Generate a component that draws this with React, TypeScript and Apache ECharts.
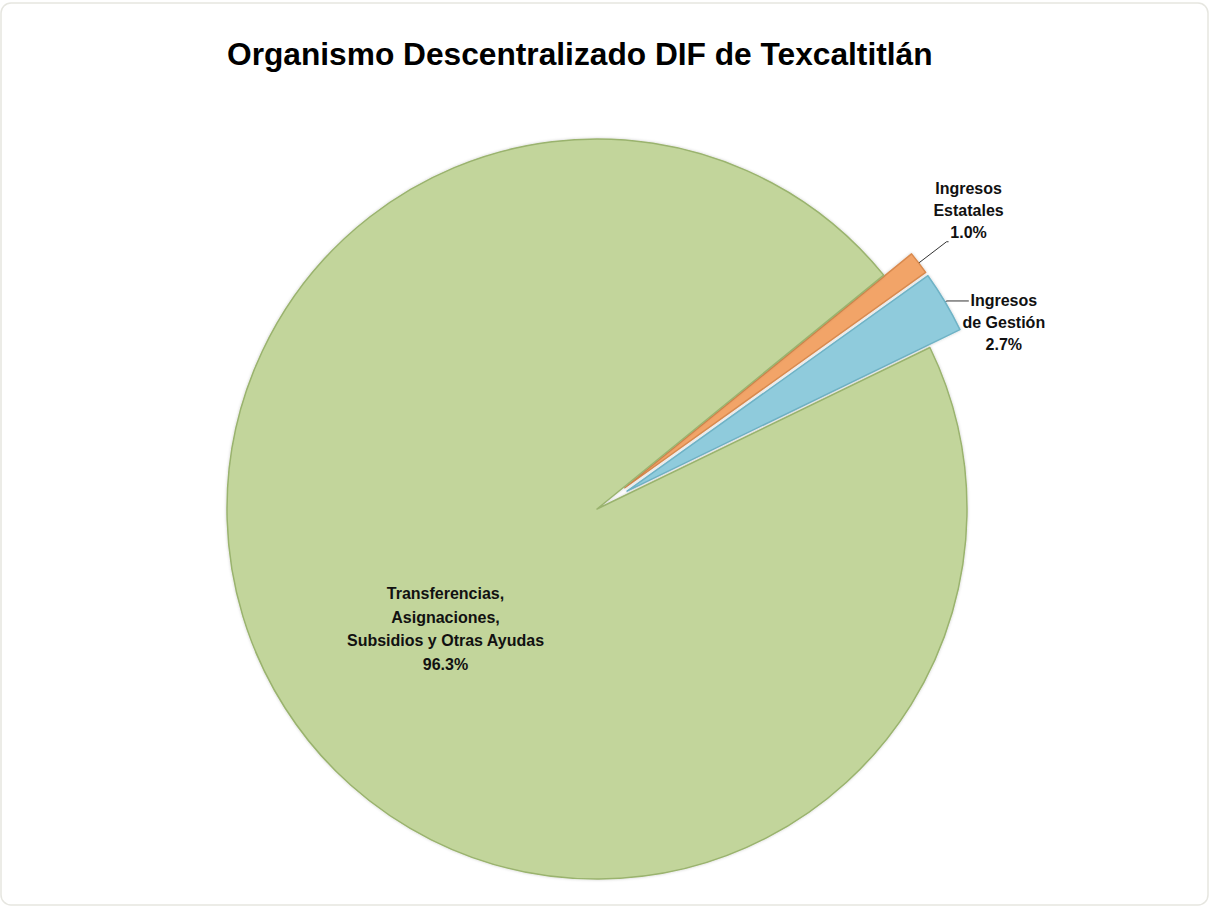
import React, { useEffect, useRef } from "react";
import * as echarts from "echarts";

const titleText = "Organismo Descentralizado DIF de Texcaltitlán";
const categories = [
  ["Ingresos", "Estatales"],
  ["Ingresos", "de Gestión"],
  ["Transferencias,", "Asignaciones,", "Subsidios y Otras Ayudas"],
];
const values = [1.0, 2.7, 96.3];
const colors = ["#F2A468", "#8FCBDC", "#C2D59B"];
const borderColors = ["#D98A4E", "#6FB3C6", "#9AB36E"];

export default function App() {
  const ref = useRef<HTMLDivElement>(null);
  useEffect(() => {
    if (!ref.current) return;
    const chart = echarts.init(ref.current, null, { renderer: "svg" });
    const fmt = (p: any) => {
      const lines = [...categories[p.dataIndex], (p.value as number).toFixed(1) + "%"];
      return lines.map((l) => "{a|" + l + "}").join("\n");
    };
    const font = "Liberation Sans, Arial, sans-serif";
    const labelCfgs: any[] = [
      {
        position: "outside",
        distanceToLabelLine: -11,
        padding: [0, 0, 62, 0],
        rich: { a: { width: 62, align: "center", fontSize: 16, fontWeight: "bold", lineHeight: 22, color: "#111", fontFamily: font } },
      },
      {
        position: "outside",
        distanceToLabelLine: -4,
        padding: [44, 0, 0, 0],
        rich: { a: { width: 78, align: "center", fontSize: 16, fontWeight: "bold", lineHeight: 22, color: "#111", fontFamily: font } },
      },
      {
        position: "inside",
        padding: [38, 0, 0, 14],
        rich: { a: { align: "center", fontSize: 16, fontWeight: "bold", lineHeight: 23.5, color: "#111", fontFamily: font } },
      },
    ];
    const labelLineCfgs: any[] = [
      { show: true, length: 35, length2: 2, lineStyle: { color: "#333", width: 1 } },
      { show: true, length: 2, length2: 22, lineStyle: { color: "#333", width: 1 } },
      { show: false },
    ];
    const data = values.map((v, i) => {
      const itemStyle = { color: colors[i], borderColor: borderColors[i], borderWidth: 1.5 };
      return {
        name: categories[i].join(" "),
        value: v,
        selected: i < 2,
        itemStyle,
        select: { itemStyle },
        label: labelCfgs[i],
        labelLine: labelLineCfgs[i],
      };
    });
    chart.setOption({
      animation: false,
      backgroundColor: "#ffffff",
      title: {
        text: titleText,
        left: 222,
        top: 33,
        textStyle: { fontSize: 31.7, fontWeight: "bold", color: "#000", fontFamily: font },
      },
      graphic: [
        {
          type: "rect",
          shape: { x: 1, y: 3, width: 1207, height: 902, r: 10 },
          style: { fill: "none", stroke: "#e6e6e0", lineWidth: 1.5 },
          silent: true,
        },
      ],
      series: [
        {
          type: "pie",
          center: [597, 509],
          radius: 370,
          startAngle: 39.2,
          clockwise: true,
          selectedMode: "multiple",
          selectedOffset: 35,
          avoidLabelOverlap: false,
          label: { formatter: fmt },
          emphasis: { disabled: true },
          itemStyle: { shadowBlur: 3, shadowColor: "rgba(0,0,0,0.2)" },
          data,
        },
      ],
    });
    return () => chart.dispose();
  }, []);
  return (
    <div
      ref={ref}
      style={{ position: "absolute", left: 0, top: 0, width: 1211, height: 909 }}
    />
  );
}
